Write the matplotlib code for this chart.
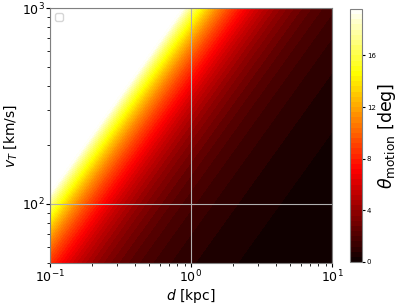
import numpy as np
import matplotlib
matplotlib.use("Agg")
import matplotlib.pyplot as plt

# values
d_range = [0.1, 10.0]          # kpc
v_range = [50.0, 1000.0]       # km/s
theta_per_ratio = 0.0171       # deg per (km/s / kpc), read at the white edge
theta_max = 19.6               # top of colour scale
n_levels = 50
cbar_ticks = [0, 4, 8, 12, 16]

d = np.logspace(np.log10(d_range[0]), np.log10(d_range[1]), 300)
v = np.logspace(np.log10(v_range[0]), np.log10(v_range[1]), 300)
D, V = np.meshgrid(d, v)
theta = theta_per_ratio * V / D

fig = plt.figure(figsize=(4.07, 3.05), dpi=100)
ax = fig.add_axes([50/407, 1 - 263/305, 282/407, 255/305])
cax = fig.add_axes([350/407, 1 - 262/305, 12/407, 253/305])

levels = np.linspace(0, theta_max, n_levels)
cf = ax.contourf(D, V, theta, levels=levels, cmap="hot")
ax.set_xscale("log")
ax.set_yscale("log")
ax.set_xlim(d_range)
ax.set_ylim(v_range)
ax.grid(True, which="major", color="#b0b0b0", lw=0.8)
for s in ax.spines.values():
    s.set_color("#808080")
ax.tick_params(labelsize=9, pad=1, length=3)
ax.tick_params(which="minor", length=2)
ax.set_xlabel("$d$ [kpc]", fontsize=10, labelpad=1)
ax.set_ylabel("$v_T$ [km/s]", fontsize=10, labelpad=2)
ax.legend(handles=[], loc="upper left", fontsize=7, borderaxespad=0.5)

cb = fig.colorbar(cf, cax=cax, ticks=cbar_ticks)
cb.ax.tick_params(labelsize=5, pad=1, length=2.5)
cb.outline.set_edgecolor("#808080")
cb.set_label(r"$\theta_{\rm motion}$ [deg]", fontsize=12.5, labelpad=0)

fig.savefig("out.png", dpi=100)
